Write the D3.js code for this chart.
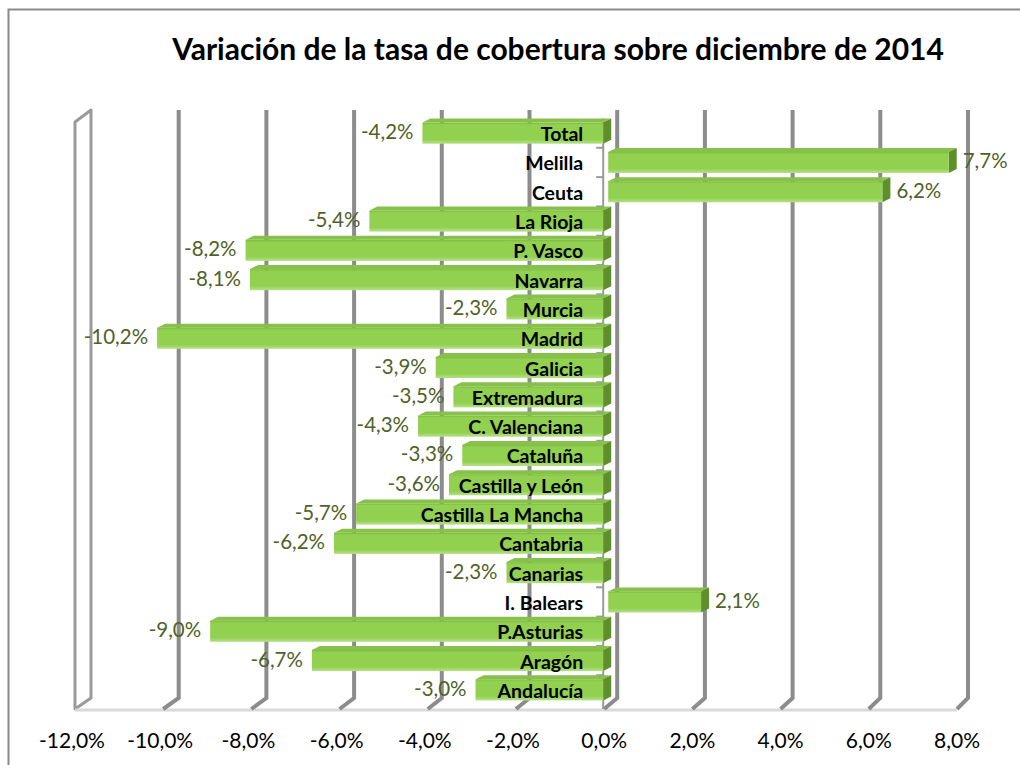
<!DOCTYPE html>
<html>
<head>
<meta charset="utf-8">
<script src="https://cdn.jsdelivr.net/npm/d3@7"></script>
<style>
  html, body { margin: 0; padding: 0; background: #fff; }
  svg { display: block; }
</style>
</head>
<body>
<svg id="chart" width="1020" height="765"></svg>
<script>
"use strict";
const chartTitle = "Variación de la tasa de cobertura sobre diciembre de 2014";
const categories = ["Total", "Melilla", "Ceuta", "La Rioja", "P. Vasco", "Navarra", "Murcia", "Madrid",
    "Galicia", "Extremadura", "C. Valenciana", "Cataluña", "Castilla y León", "Castilla La Mancha",
    "Cantabria", "Canarias", "I. Balears", "P.Asturias", "Aragón", "Andalucía"];
const values = [-4.2, 7.7, 6.2, -5.4, -8.2, -8.1, -2.3, -10.2, -3.9, -3.5, -4.3, -3.3, -3.6, -5.7,
    -6.2, -2.3, 2.1, -9.0, -6.7, -3.0];
const tickValues = [-12, -10, -8, -6, -4, -2, 0, 2, 4, 6, 8];

const fmt = (v) => d3.format(".1f")(v).replace("−", "-").replace(".", ",") + "%";

const svg = d3.select("#chart");
const font = "Lato, 'Liberation Sans', sans-serif";

// frame of the chart area (runs off right and bottom edges)
svg.append("path")
    .attr("d", "M8.5,770 L8.5,9.5 L1030,9.5")
    .attr("fill", "none")
    .attr("stroke", "#8a8a8a")
    .attr("stroke-width", 2);

svg.append("text")
    .attr("x", 558)
    .attr("y", 60)
    .attr("text-anchor", "middle")
    .attr("font-family", font)
    .attr("font-weight", "bold")
    .attr("font-size", 30)
    .text(chartTitle);

// three planes of the fake 3D: floor (labels), bar front, back wall
const xFloor = d3.scaleLinear().domain([-12, 8]).range([75, 957]);
const xBar = d3.scaleLinear().domain([-12, 8]).range([77.5, 962]);
const xBack = d3.scaleLinear().domain([-12, 8]).range([91, 968]);
const y = d3.scaleBand().domain(categories).range([118.5, 704.5]).paddingInner(0.28).paddingOuter(0.14);

const backTop = 110, backBottom = 698, floorY = 709;

// left side wall
svg.append("path")
    .attr("d", `M${xFloor(-12)},${floorY} L${xFloor(-12)},${backTop + 12} L${xBack(-12)},${backTop} L${xBack(-12)},${backBottom} Z`)
    .attr("fill", "#fff")
    .attr("stroke", "#9a9a9a")
    .attr("stroke-width", 3)
    .attr("stroke-linejoin", "round");

// floor line
svg.append("line")
    .attr("x1", xFloor(-12)).attr("x2", xFloor(8))
    .attr("y1", floorY + 1).attr("y2", floorY + 1)
    .attr("stroke", "#d9d9d9")
    .attr("stroke-width", 3);

// gridlines on the back wall, with a little slant down to the floor
svg.append("g").selectAll("path")
    .data(tickValues.filter(t => t > -12))
    .join("path")
    .attr("d", t => `M${xBack(t)},${backTop} L${xBack(t)},${backBottom} L${xFloor(t)},${floorY}`)
    .attr("fill", "none")
    .attr("stroke", "#8c8c8c")
    .attr("stroke-width", 4);

// category axis at zero, with tick marks between bands
const axisX = xBar(0) - 5;
svg.append("line")
    .attr("x1", axisX).attr("x2", axisX)
    .attr("y1", y.range()[0]).attr("y2", floorY)
    .attr("stroke", "#9a9a9a")
    .attr("stroke-width", 2);
svg.append("g").selectAll("line")
    .data(categories.slice(1))
    .join("line")
    .attr("x1", axisX - 7).attr("x2", axisX)
    .attr("y1", c => y(c) - y.step() * y.paddingInner() / 2)
    .attr("y2", c => y(c) - y.step() * y.paddingInner() / 2)
    .attr("stroke", "#9a9a9a")
    .attr("stroke-width", 2);

// bar gradient
const defs = svg.append("defs");
const grad = defs.append("linearGradient")
    .attr("id", "barFront")
    .attr("x1", 0).attr("y1", 0).attr("x2", 0).attr("y2", 1);
grad.append("stop").attr("offset", "0%").attr("stop-color", "#7fb83f");
grad.append("stop").attr("offset", "10%").attr("stop-color", "#92d050");
grad.append("stop").attr("offset", "80%").attr("stop-color", "#92d050");
grad.append("stop").attr("offset", "100%").attr("stop-color", "#b5e08a");

const depthX = 8, depthY = 4;
const bars = svg.append("g").selectAll("g")
    .data(categories.map((c, i) => ({ cat: c, value: values[i] })))
    .join("g");

bars.each(function (d) {
    const g = d3.select(this);
    const top = y(d.cat);
    const h = y.bandwidth();
    // negative bars stop a little short of zero, where their end face shows
    const x0 = d.value < 0 ? xBar(d.value) : xBar(0);
    const x1 = d.value < 0 ? xBar(0) - 5 : xBar(d.value);
    g.append("path")
        .attr("d", `M${x0},${top} L${x0 + depthX},${top - depthY} L${x1 + depthX},${top - depthY} L${x1},${top} Z`)
        .attr("fill", "#86c24a");
    g.append("path")
        .attr("d", `M${x1},${top} L${x1 + depthX},${top - depthY} L${x1 + depthX},${top + h - depthY} L${x1},${top + h} Z`)
        .attr("fill", "#5f8f2c");
    g.append("rect")
        .attr("x", x0).attr("y", top)
        .attr("width", x1 - x0).attr("height", h)
        .attr("fill", "url(#barFront)");
});

// category labels sit on the bars, right aligned near the axis
svg.append("g").selectAll("text")
    .data(categories)
    .join("text")
    .attr("x", xBar(0) - 25)
    .attr("y", c => y(c) + y.bandwidth() / 2 + 8)
    .attr("text-anchor", "end")
    .attr("font-family", font)
    .attr("font-weight", "bold")
    .attr("font-size", 19.5)
    .attr("fill", "#000")
    .text(c => c);

// value labels
svg.append("g").selectAll("text")
    .data(categories.map((c, i) => ({ cat: c, value: values[i] })))
    .join("text")
    .attr("x", d => d.value < 0 ? xBar(d.value) - 9 : xBar(d.value) + 14)
    .attr("y", d => y(d.cat) + y.bandwidth() / 2 + 6)
    .attr("text-anchor", d => d.value < 0 ? "end" : "start")
    .attr("font-family", font)
    .attr("font-size", 20.5)
    .attr("fill", "#4f6228")
    .text(d => fmt(d.value));

// value axis labels on the floor
svg.append("g").selectAll("text")
    .data(tickValues)
    .join("text")
    .attr("x", t => xFloor(t) - (t < 0 ? 3 : 0))
    .attr("y", 748)
    .attr("text-anchor", "middle")
    .attr("font-family", font)
    .attr("font-size", 21)
    .attr("fill", "#000")
    .text(t => fmt(t));
</script>
</body>
</html>
